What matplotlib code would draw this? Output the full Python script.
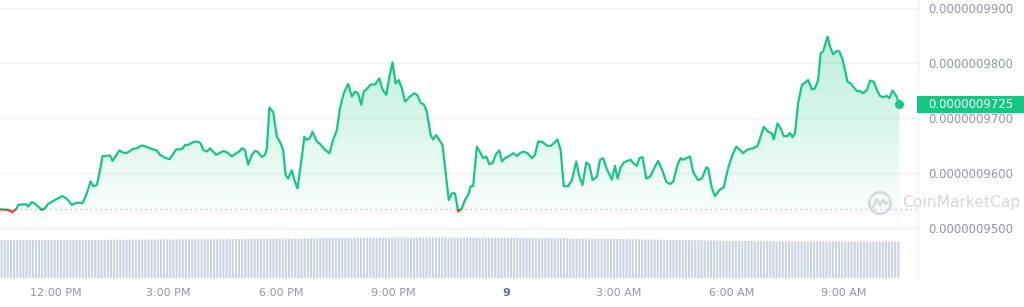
import numpy as np
import matplotlib
matplotlib.use("Agg")
import matplotlib.pyplot as plt
from matplotlib.patches import Rectangle, Circle, Polygon
from matplotlib.colors import LinearSegmentedColormap

# ---------------- data ----------------
# minutes after 10:30 AM (day 8)
minutes = [0, 13, 20, 27, 29, 37, 42, 45, 51, 56, 61, 67, 72, 77, 85, 93, 100, 107, 115, 122,
           128, 132, 138, 145, 149, 155, 160, 164, 170, 176, 180, 184, 191, 197, 202, 208, 213, 219, 224, 229,
           235, 240, 245, 251, 256, 264, 271, 276, 282, 288, 293, 296, 301, 307, 312, 317, 321, 325, 331, 336,
           340, 346, 352, 358, 364, 371, 378, 383, 387, 392, 397, 403, 408, 412, 419, 424, 427, 431, 437, 443,
           449, 453, 457, 461, 467, 471, 476, 483, 487, 491, 496, 500, 507, 512, 520, 527, 533, 539, 544, 550,
           557, 563, 568, 573, 578, 582, 588, 593, 600, 607, 612, 618, 623, 628, 633, 638, 643, 648, 656, 663,
           668, 673, 678, 683, 689, 693, 698, 703, 708, 712, 718, 723, 728, 733, 739, 744, 749, 753, 757, 763,
           769, 773, 778, 783, 788, 794, 799, 803, 808, 815, 821, 827, 832, 837, 844, 851, 856, 861, 867, 875,
           881, 886, 892, 897, 902, 909, 915, 922, 927, 932, 938, 943, 948, 955, 960, 965, 971, 979, 984, 988,
           993, 998, 1004, 1009, 1013, 1019, 1023, 1028, 1034, 1040, 1046, 1053, 1060, 1066, 1072, 1077, 1084, 1089, 1093, 1100,
           1104, 1109, 1117, 1123, 1130, 1133, 1139, 1144, 1151, 1158, 1165, 1172, 1178, 1184, 1189, 1195, 1201, 1205, 1212, 1217,
           1222, 1229, 1235, 1238, 1244, 1249, 1254, 1260, 1264, 1268, 1272, 1277, 1283, 1290, 1293, 1299, 1304, 1309, 1313, 1317,
           1324, 1328, 1333, 1339, 1343, 1348, 1352, 1356, 1361, 1365, 1371, 1376, 1381, 1387, 1392, 1398, 1403, 1408, 1413, 1419,
           1423, 1428, 1434, 1439]

# price in units of 1e-10
price = [9534, 9533, 9529, 9536, 9542, 9543, 9543, 9539, 9547, 9544, 9539, 9533, 9536, 9544, 9549, 9554, 9558, 9553, 9542, 9546,
         9546, 9545, 9560, 9585, 9576, 9578, 9605, 9631, 9631, 9632, 9622, 9629, 9641, 9637, 9636, 9640, 9644, 9645, 9649, 9650,
         9647, 9645, 9643, 9641, 9633, 9628, 9625, 9633, 9643, 9643, 9645, 9651, 9651, 9655, 9657, 9657, 9654, 9642, 9639, 9645,
         9640, 9633, 9637, 9640, 9637, 9630, 9636, 9639, 9645, 9642, 9615, 9633, 9640, 9639, 9629, 9633, 9645, 9719, 9711, 9666,
         9654, 9642, 9596, 9590, 9605, 9587, 9572, 9630, 9666, 9660, 9664, 9675, 9657, 9653, 9642, 9636, 9660, 9678, 9718, 9745,
         9762, 9739, 9748, 9745, 9724, 9748, 9754, 9761, 9761, 9772, 9752, 9742, 9775, 9801, 9763, 9769, 9754, 9730, 9739, 9745,
         9741, 9727, 9725, 9711, 9669, 9661, 9669, 9660, 9651, 9611, 9551, 9563, 9563, 9530, 9536, 9551, 9560, 9576, 9576, 9648,
         9636, 9627, 9630, 9616, 9618, 9635, 9641, 9621, 9627, 9631, 9636, 9631, 9636, 9639, 9636, 9627, 9633, 9657, 9657, 9650,
         9649, 9654, 9661, 9642, 9576, 9576, 9587, 9621, 9593, 9578, 9619, 9615, 9587, 9593, 9624, 9627, 9607, 9588, 9613, 9590,
         9610, 9619, 9622, 9624, 9618, 9613, 9627, 9629, 9590, 9593, 9607, 9622, 9604, 9584, 9580, 9584, 9615, 9627, 9624, 9628,
         9630, 9602, 9587, 9590, 9610, 9609, 9572, 9558, 9569, 9574, 9609, 9633, 9648, 9642, 9636, 9642, 9644, 9645, 9649, 9666,
         9684, 9675, 9672, 9661, 9690, 9681, 9667, 9667, 9673, 9665, 9672, 9727, 9760, 9766, 9769, 9752, 9754, 9769, 9818, 9821,
         9848, 9830, 9816, 9822, 9821, 9807, 9787, 9766, 9763, 9757, 9749, 9749, 9745, 9751, 9768, 9766, 9751, 9740, 9738, 9740,
         9736, 9750, 9740, 9725]

open_price = 9535

# 5-minute volume bars (arbitrary units)
volume = [
    3.78, 3.80, 3.79, 3.81, 3.80, 3.79, 3.80, 3.82, 3.81, 3.80, 3.79, 3.80, 3.81, 3.80, 3.82, 3.81, 3.80, 3.81, 3.82, 3.80, 3.81, 3.82, 3.81, 3.82,
    3.82, 3.81, 3.82, 3.83, 3.82, 3.81, 3.82, 3.83, 3.82, 3.82, 3.83, 3.82, 3.83, 3.84, 3.83, 3.82, 3.83, 3.84, 3.83, 3.84, 3.83, 3.84, 3.85, 3.84,
    3.84, 3.85, 3.84, 3.85, 3.86, 3.85, 3.84, 3.85, 3.86, 3.85, 3.86, 3.87, 3.86, 3.85, 3.86, 3.87, 3.86, 3.87, 3.88, 3.87, 3.86, 3.87, 3.88, 3.87,
    3.88, 3.89, 3.88, 3.89, 3.90, 3.89, 3.90, 3.91, 3.90, 3.91, 3.92, 3.91, 3.92, 3.93, 3.92, 3.93, 3.94, 3.93, 3.94, 3.95, 3.94, 3.95, 3.96, 3.95,
    3.96, 3.97, 3.96, 3.97, 3.98, 3.97, 3.98, 3.99, 3.98, 3.99, 4.00, 3.99, 4.00, 4.01, 4.00, 4.01, 4.02, 4.01, 4.02, 4.03, 4.02, 4.03, 4.02, 4.03,
    4.03, 4.04, 4.03, 4.04, 4.03, 4.04, 4.05, 4.04, 4.05, 4.04, 4.05, 4.04, 4.05, 4.05, 4.04, 4.05, 4.04, 4.05, 4.04, 4.05, 4.04, 4.05, 4.04, 4.05,
    4.05, 4.04, 4.05, 4.04, 4.05, 4.04, 4.05, 4.04, 4.05, 4.04, 4.03, 4.04, 4.03, 4.04, 4.03, 4.02, 4.03, 4.02, 4.03, 4.02, 4.01, 4.02, 4.01, 4.02,
    4.01, 4.00, 4.01, 4.00, 3.99, 4.00, 3.99, 3.98, 3.99, 3.98, 3.97, 3.98, 3.97, 3.96, 3.97, 3.96, 3.95, 3.96, 3.95, 3.94, 3.95, 3.94, 3.93, 3.94,
    3.93, 3.92, 3.91, 3.92, 3.91, 3.90, 3.89, 3.90, 3.89, 3.88, 3.87, 3.88, 3.87, 3.86, 3.85, 3.86, 3.85, 3.84, 3.83, 3.84, 3.83, 3.82, 3.81, 3.82,
    3.81, 3.80, 3.79, 3.80, 3.79, 3.78, 3.77, 3.78, 3.77, 3.76, 3.75, 3.76, 3.75, 3.74, 3.73, 3.74, 3.73, 3.72, 3.71, 3.72, 3.71, 3.70, 3.70, 3.71,
    3.70, 3.69, 3.70, 3.69, 3.68, 3.69, 3.68, 3.67, 3.68, 3.67, 3.68, 3.67, 3.66, 3.67, 3.66, 3.67, 3.66, 3.65, 3.66, 3.65, 3.66, 3.65, 3.66, 3.65,
    3.65, 3.66, 3.65, 3.66, 3.65, 3.64, 3.65, 3.64, 3.65, 3.64, 3.65, 3.64, 3.65, 3.64, 3.65, 3.64, 3.65, 3.64, 3.65, 3.64, 3.65, 3.64, 3.65, 3.64,
]
volume_minutes = np.arange(len(volume)) * 5 + 2.5

x_tick_minutes = [90, 270, 450, 630, 810, 990, 1170, 1350]
x_tick_labels = ["12:00 PM", "3:00 PM", "6:00 PM", "9:00 PM", "9", "3:00 AM", "6:00 AM", "9:00 AM"]
y_ticks = [9500, 9600, 9700, 9800, 9900]
last_price_label = "0.0000009725"

# ---------------- style ----------------
GREEN = "#16c784"
RED = "#ea3943"
GRID = "#eff2f5"
LABEL = "#8f96a3"

W, H = 1024, 307
fig = plt.figure(figsize=(W / 100, H / 100), dpi=100)
fig.patch.set_facecolor("white")

plot_right = 918
plot_bottom = 278
XMAX = 1468.8
YMIN, YMAX = 9409.1, 9914.5

# volume axes (drawn first, underneath)
vax = fig.add_axes([0, 1 - plot_bottom / H, plot_right / W, 42 / H])
bars = vax.bar(volume_minutes, volume, width=3.2, color="#c9d1e1", linewidth=0)
for b in bars:
    b.set_snap(False)
vax.set_xlim(0, XMAX)
vax.set_ylim(0, 4.2)
vax.axis("off")

ax = fig.add_axes([0, 1 - plot_bottom / H, plot_right / W, plot_bottom / H])
ax.set_facecolor("none")

# gradient fill under line
fill_bottom = 9500
verts = [(minutes[0], fill_bottom)] + list(zip(minutes, price)) + [(minutes[-1], fill_bottom)]
poly = Polygon(verts, closed=True, facecolor="none", edgecolor="none")
ax.add_patch(poly)
cmap = LinearSegmentedColormap.from_list(
    "g", [(0.086, 0.78, 0.52, 0.0), (0.086, 0.78, 0.52, 0.30)])
grad = np.linspace(0, 1, 256).reshape(-1, 1)
im = ax.imshow(grad, extent=[minutes[0], minutes[-1], fill_bottom, 9860],
               origin="lower", aspect="auto", cmap=cmap, zorder=2, interpolation="bilinear")
im.set_clip_path(poly)

# baseline (open price)
ax.axhline(open_price, color="#b9c0cb", lw=1.0, ls=(0, (1, 2.6)), zorder=1)

# price line: green above open, red below
lg, = ax.plot(minutes, price, color=GREEN, lw=1.6, zorder=4, solid_joinstyle="round", solid_capstyle="round")
lr, = ax.plot(minutes, price, color=RED, lw=1.6, zorder=4, solid_joinstyle="round", solid_capstyle="round")
lg.set_clip_path(Rectangle((-1000, open_price), 5000, 5000, transform=ax.transData))
lr.set_clip_path(Rectangle((-1000, open_price - 5000), 5000, 5000, transform=ax.transData))
ax.scatter([minutes[-1]], [price[-1]], s=42, color=GREEN, zorder=5, linewidths=0)

ax.set_xlim(0, XMAX)
ax.set_ylim(YMIN, YMAX)

ax.set_yticks(y_ticks)
ax.set_yticklabels([f"{v * 1e-10:.10f}" for v in y_ticks])
ax.yaxis.tick_right()
ax.grid(axis="y", color=GRID, lw=1.0, zorder=0)
ax.set_xticks(x_tick_minutes)
ax.set_xticklabels(x_tick_labels)
ax.tick_params(axis="y", length=0, pad=7.5, labelsize=8.4, labelcolor=LABEL)
ax.tick_params(axis="x", length=0, pad=7, labelsize=8.0, labelcolor=LABEL)
for t in ax.get_xticklabels():
    if t.get_text() == "9":
        t.set_fontweight("bold")
        t.set_color("#616e85")
for s in ["top", "left", "bottom"]:
    ax.spines[s].set_visible(False)
ax.spines["right"].set_color(GRID)
ax.spines["right"].set_linewidth(1.0)

# current price badge
fig.patches.append(Rectangle((917 / W, 1 - 113 / H), (W - 917) / W, 17 / H,
                             transform=fig.transFigure, facecolor=GREEN, edgecolor="none", zorder=3))
fig.text(928 / W, 1 - 105 / H, last_price_label, color="white", fontsize=8.4,
         va="center", ha="left", zorder=4)

# watermark
lax = fig.add_axes([867 / W, 1 - 216 / H, 26 / W, 26 / H])
lax.set_xlim(-1.15, 1.15)
lax.set_ylim(-1.15, 1.15)
lax.axis("off")
lax.add_patch(Circle((0, 0), 0.95, fill=False, lw=2.0, edgecolor="#d6dae0"))
lax.plot([-0.6, -0.3, 0.0, 0.25, 0.5, 0.65], [-0.35, 0.35, -0.2, 0.3, -0.1, 0.05],
         color="#d6dae0", lw=2.0, solid_capstyle="round")
fig.text(902 / W, 1 - 203 / H, "CoinMarketCap", color="#d3d7dd", fontsize=11.2,
         va="center", ha="left")

fig.savefig("out.png", dpi=100)
